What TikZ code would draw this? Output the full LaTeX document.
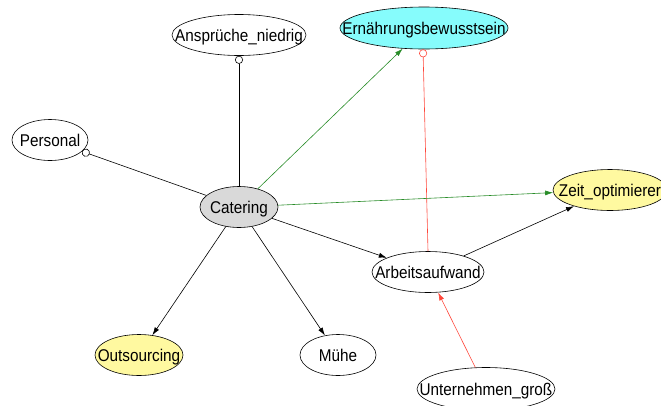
\documentclass[tikz,border=0pt]{standalone}
\usepackage{fontspec}
\setmainfont{Liberation Sans}[FakeStretch=0.9]
\usetikzlibrary{shapes.geometric,arrows.meta}
\definecolor{cyanfill}{RGB}{134,252,252}
\definecolor{yellowfill}{RGB}{255,249,160}
\definecolor{grayfill}{RGB}{217,217,217}
\definecolor{posgreen}{RGB}{40,140,40}
\definecolor{negred}{RGB}{255,72,60}
% label that does not widen its ellipse
\newcommand{\lbl}[1]{\makebox[0pt]{#1}}

\begin{document}
\begin{tikzpicture}[x=1pt,y=-1pt,
	var/.style={ellipse,draw,line width=0.6pt,inner sep=0pt,minimum height=41pt,
		text height=12pt,text depth=0pt,font=\fontsize{17}{18}\selectfont},
	arr/.style={-{Latex[length=8pt,width=5pt]},line width=0.6pt},
	circ/.style={{Circle[open,length=8pt,width=8pt]}-,line width=0.6pt}]
	%%%%% START %%%%%
	
	\useasboundingbox (0,0) rectangle (661,405);
	
	\node[var,minimum width=134pt] (anspr) at (239,35) {\lbl{Ansprüche\_niedrig}};
	\node[var,minimum width=168pt,minimum height=42pt,fill=cyanfill] (ernaehr) at (424,28) {\lbl{Ernährungsbewusstsein}};
	\node[var,minimum width=76pt] (personal) at (50,140) {\lbl{Personal}};
	\node[var,minimum width=78pt,fill=grayfill] (catering) at (239,207) {\lbl{Catering}};
	\node[var,minimum width=114pt,fill=yellowfill] (zeit) at (610,190) {\lbl{Zeit\_optimierer}};
	\node[var,minimum width=112pt] (arbeit) at (428,272) {\lbl{Arbeitsaufwand}};
	\node[var,minimum width=88pt,fill=yellowfill] (outs) at (139,355) {\lbl{Outsourcing}};
	\node[var,minimum width=76pt] (muehe) at (338,355) {\lbl{Mühe}};
	\node[var,minimum width=138pt,minimum height=43pt] (untern) at (486,389) {\lbl{Unternehmen\_groß}};
	
	% ungerichtete Kanten
	\draw[circ] (anspr) -- (catering);
	\draw[circ] (personal) -- (catering);
	\draw[circ,negred] (ernaehr.south) ++(-1,0) -- (arbeit.north);
	
	% gerichtete Kanten
	\draw[arr,posgreen] (catering) -- (ernaehr);
	\draw[arr,posgreen] (catering) -- (zeit);
	\draw[arr] (catering) -- (arbeit);
	\draw[arr] (arbeit) -- (zeit);
	\draw[arr] (catering) -- (outs);
	\draw[arr] (catering) -- (muehe);
	\draw[arr,negred] (untern) -- (arbeit);
	
	%%%%% END %%%%%
\end{tikzpicture}
\end{document}
